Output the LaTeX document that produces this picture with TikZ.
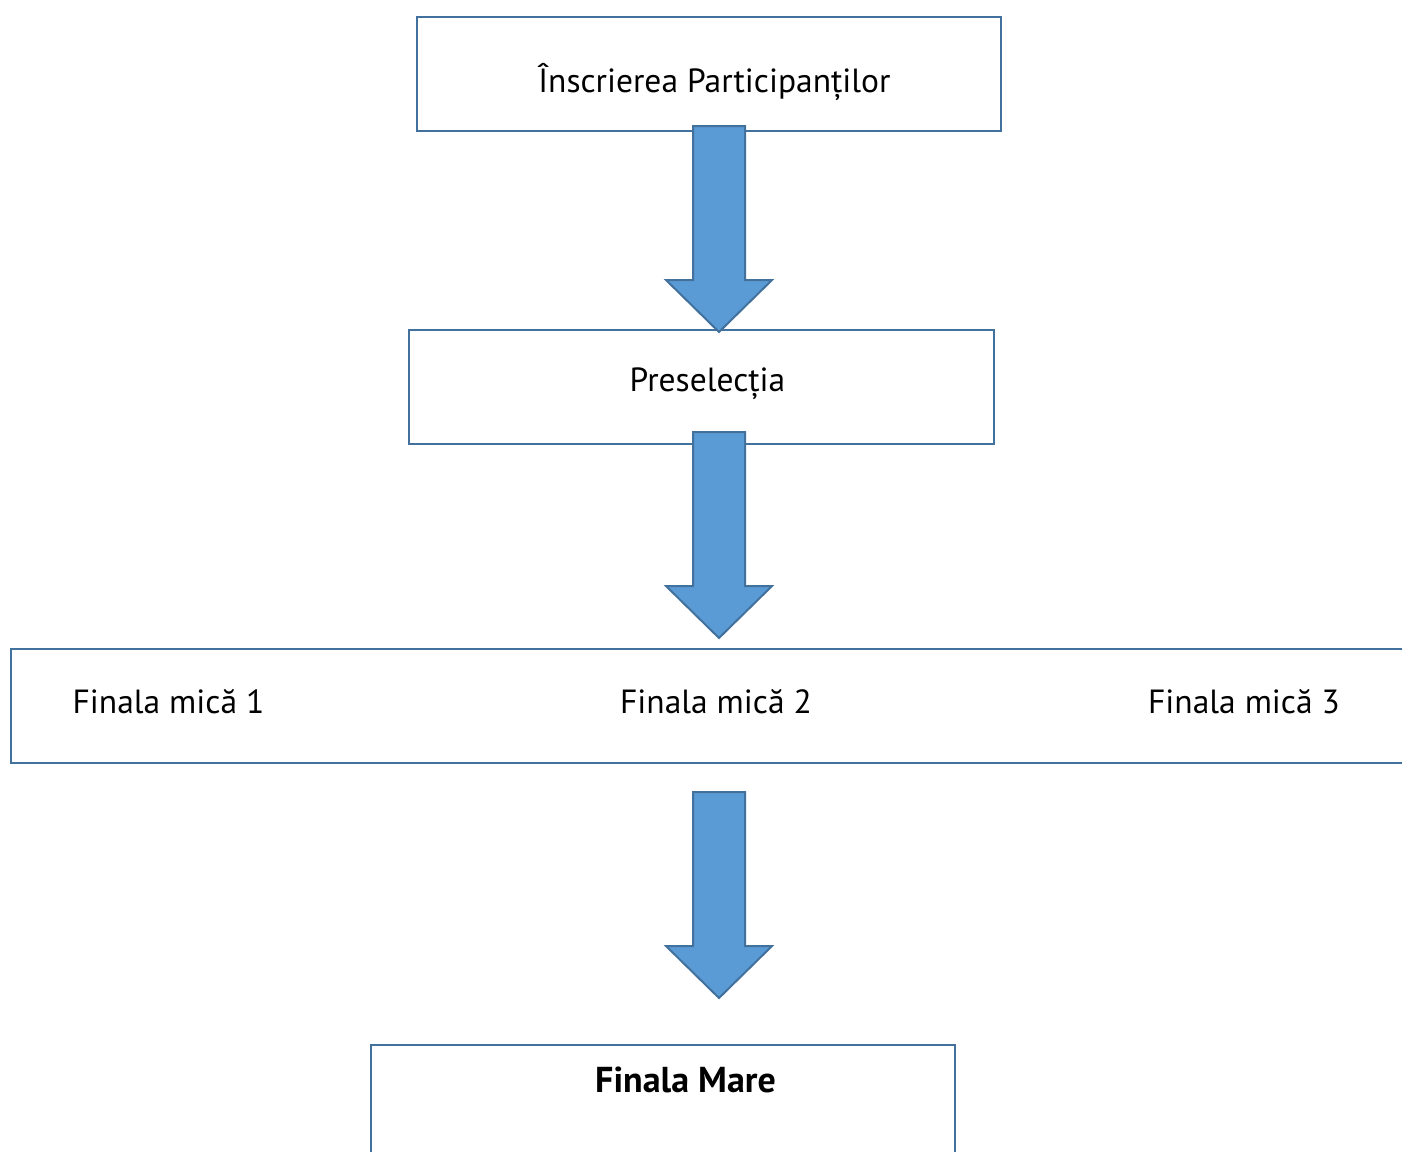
\documentclass[tikz,border=0pt]{standalone}
\usepackage{fontspec}
\setmainfont{PT Sans}
\definecolor{edgeblue}{HTML}{41719C}
\definecolor{arrowblue}{HTML}{5B9BD5}
\tikzset{
  stagebox/.style={draw=edgeblue, line width=2pt, minimum width=584, minimum height=114, inner sep=0pt},
  stagetext/.style={anchor=base, inner sep=0pt, font=\fontsize{33.5}{38}\selectfont},
  bigarrow/.style={draw=edgeblue, fill=arrowblue, line width=2pt, line join=miter},
}
\begin{document}
\begin{tikzpicture}[x=1pt,y=-1pt]
\useasboundingbox (0,0) rectangle (1402,1151);
\clip (0,0) rectangle (1402,1151);

% boxes:
\node[stagebox] (inscr) at (709,74) {};
\node[stagebox, minimum width=585] (presel) at (701.5,387) {};
\node[stagebox, minimum width=1420] (mici) at (721,706) {};
\node[stagebox] (mare) at (663,1102) {};

% arrows:
\foreach \ytop in {126,432,792}
  \draw[bigarrow] (693,\ytop) -- (745,\ytop) -- (745,\ytop+154) -- (772,\ytop+154)
    -- (719,\ytop+206) -- (666,\ytop+154) -- (693,\ytop+154) -- cycle;

% texts:
\node[stagetext] (tinscr) at (714.5,92) {Înscrierea Participanților};
\node[stagetext] (tpresel) at (707.5,391) {Preselecția};
\node[stagetext] (tmica1) at (168.5,713) {Finala mică 1};
\node[stagetext] (tmica2) at (716,713) {Finala mică 2};
\node[stagetext] (tmica3) at (1244,713) {Finala mică 3};
\node[stagetext, font=\fontsize{36}{40}\selectfont\bfseries] (tmare) at (685.5,1092) {Finala Mare};
\end{tikzpicture}
\end{document}
